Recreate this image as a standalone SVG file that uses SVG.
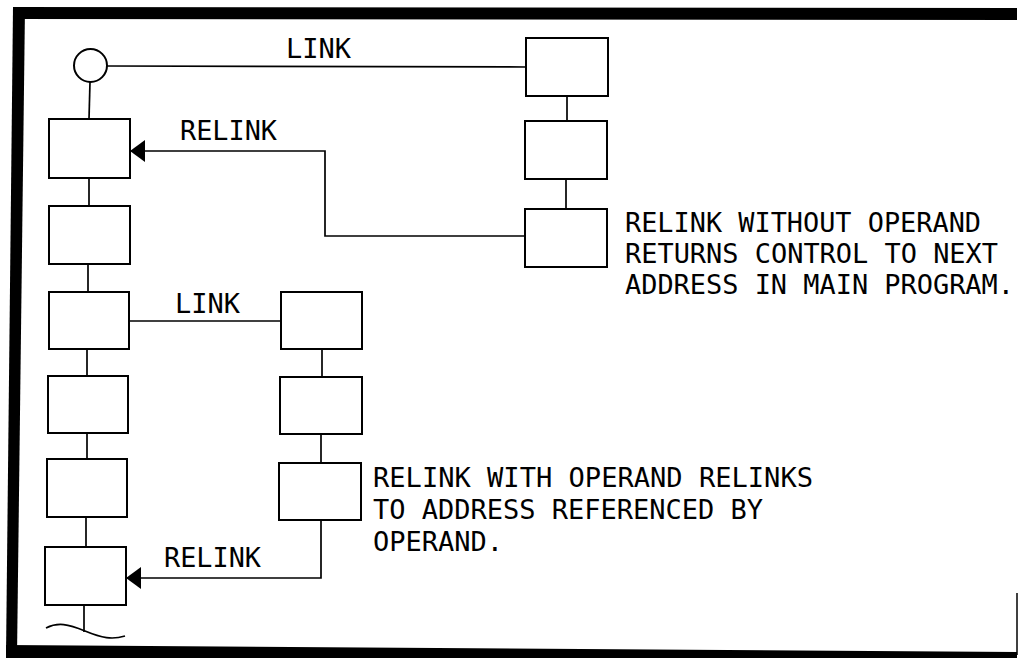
<svg xmlns="http://www.w3.org/2000/svg" width="1020" height="658" viewBox="0 0 1020 658">
<style>
.box{fill:#fff;stroke:#000;stroke-width:2}
.ln{fill:none;stroke:#000;stroke-width:1.7}
.t{font-family:"DejaVu Sans Mono","Liberation Mono",monospace;font-size:27px;fill:#000}
</style>
<defs>
<marker id="arr" viewBox="0 0 15 22" refX="15" refY="11" markerWidth="15" markerHeight="22" markerUnits="userSpaceOnUse" orient="auto">
<path d="M0,0 L15,11 L0,22 Z" fill="#000"/>
</marker>
</defs>
<rect width="1020" height="658" fill="#fff"/>
<g id="frame" fill="#000">
<polygon points="13,7 1017,8 1017,20 13,19"/>
<polygon points="13,7 25,7 17,657 6,657"/>
<polygon points="6,645 1017,652 1017,658 6,658"/>
<line x1="1017" y1="593" x2="1017" y2="655" stroke="#000" stroke-width="1.5"/>
</g>
<g id="connectors">
<line class="ln" x1="90" y1="82" x2="89" y2="119"/>
<line class="ln" x1="89" y1="178" x2="89" y2="206"/>
<line class="ln" x1="88" y1="264" x2="88" y2="292"/>
<line class="ln" x1="87" y1="349" x2="87" y2="376"/>
<line class="ln" x1="87" y1="433" x2="87" y2="459"/>
<line class="ln" x1="86" y1="517" x2="86" y2="547"/>
<line class="ln" x1="84" y1="605" x2="84" y2="632"/>
<path class="ln" d="M46,628 C58,622 68,624 85,631 S112,640 125,636"/>
<line class="ln" x1="567" y1="96" x2="567" y2="121"/>
<line class="ln" x1="566" y1="179" x2="566" y2="209"/>
<line class="ln" x1="322" y1="349" x2="322" y2="377"/>
<line class="ln" x1="321" y1="434" x2="321" y2="463"/>
<line class="ln" x1="107" y1="66" x2="526" y2="67"/>
<polyline class="ln" points="525,236 325,236 325,151 130,151" marker-end="url(#arr)"/>
<line class="ln" x1="130" y1="321" x2="281" y2="321"/>
<polyline class="ln" points="321,520 321,578 126,578" marker-end="url(#arr)"/>
</g>
<g id="start"><circle cx="90.5" cy="65.5" r="16.5" class="box"/></g>
<g id="L1"><rect class="box" x="49" y="119" width="81" height="59"/></g>
<g id="L2"><rect class="box" x="49" y="206" width="81" height="58"/></g>
<g id="L3"><rect class="box" x="49" y="292" width="80" height="57"/></g>
<g id="L4"><rect class="box" x="48" y="376" width="80" height="57"/></g>
<g id="L5"><rect class="box" x="47" y="459" width="80" height="58"/></g>
<g id="L6"><rect class="box" x="45" y="547" width="81" height="58"/></g>
<g id="R1"><rect class="box" x="526" y="38" width="82" height="58"/></g>
<g id="R2"><rect class="box" x="525" y="121" width="82" height="58"/></g>
<g id="R3"><rect class="box" x="525" y="209" width="82" height="58"/></g>
<g id="M1"><rect class="box" x="281" y="292" width="81" height="57"/></g>
<g id="M2"><rect class="box" x="280" y="377" width="82" height="57"/></g>
<g id="M3"><rect class="box" x="279" y="463" width="82" height="57"/></g>
<g id="labels">
<text class="t" x="286" y="58" textLength="65" lengthAdjust="spacingAndGlyphs">LINK</text>
<text class="t" x="180" y="140" textLength="97" lengthAdjust="spacingAndGlyphs">RELINK</text>
<text class="t" x="175" y="313" textLength="65" lengthAdjust="spacingAndGlyphs">LINK</text>
<text class="t" x="164" y="567" textLength="97" lengthAdjust="spacingAndGlyphs">RELINK</text>
<text class="t" x="625" y="232" textLength="356" lengthAdjust="spacingAndGlyphs">RELINK WITHOUT OPERAND</text>
<text class="t" x="625" y="263" textLength="373" lengthAdjust="spacingAndGlyphs">RETURNS CONTROL TO NEXT</text>
<text class="t" x="625" y="294" textLength="389" lengthAdjust="spacingAndGlyphs">ADDRESS IN MAIN PROGRAM.</text>
<text class="t" x="373" y="487" textLength="440" lengthAdjust="spacingAndGlyphs">RELINK WITH OPERAND RELINKS</text>
<text class="t" x="373" y="519" textLength="390" lengthAdjust="spacingAndGlyphs">TO ADDRESS REFERENCED BY</text>
<text class="t" x="373" y="551" textLength="130" lengthAdjust="spacingAndGlyphs">OPERAND.</text>
</g>
</svg>
